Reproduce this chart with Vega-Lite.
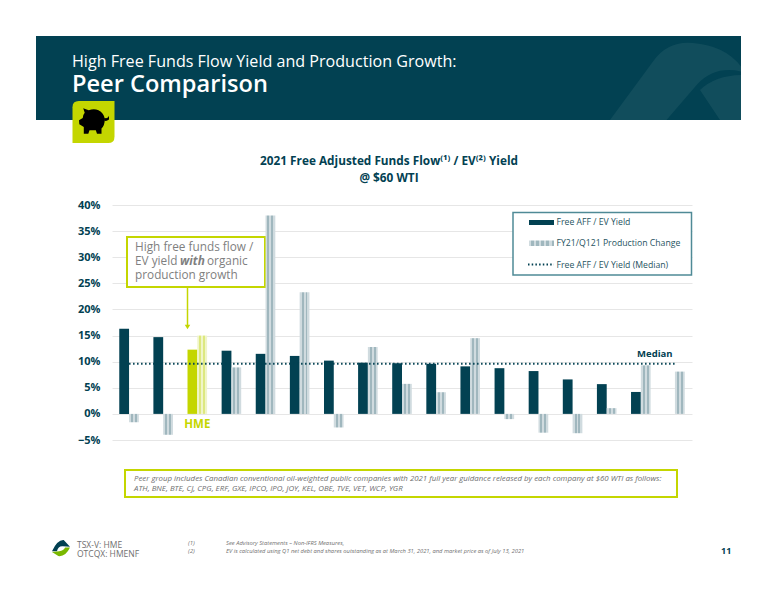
{
  "$schema": "https://vega.github.io/schema/vega-lite/v6.json",
  "width": 580,
  "height": 235,
  "autosize": "none",
  "padding": {"left": 112, "top": 205, "right": 84, "bottom": 160},
  "background": "white",
  "config": {
    "font": "Open Sans",
    "view": {"stroke": null},
    "axis": {"disable": true}
  },
  "title": {
    "text": "2021 Free Adjusted Funds Flow⁽¹⁾ / EV⁽²⁾ Yield",
    "subtitle": "@ $60 WTI",
    "anchor": "middle",
    "dx": -13,
    "offset": -149,
    "fontSize": 11.8,
    "fontWeight": "bold",
    "color": "#024152",
    "subtitleFontSize": 11.8,
    "subtitleFontWeight": "bold",
    "subtitleColor": "#024152",
    "subtitlePadding": 5
  },
  "resolve": {
    "scale": {"x": "independent", "y": "independent"},
    "axis": {"x": "independent", "y": "independent"}
  },
  "layer": [
    {
      "data": {"values": [{"item": "annotation"}]},
      "layer": [
        {
          "mark": {"type": "rect", "color": "#024152"},
          "encoding": {
            "x": {"datum": 36, "type": "quantitative", "scale": {"domain": [0, 776], "range": [-112, 664], "nice": false, "zero": false}},
            "x2": {"datum": 741},
            "y": {"datum": 36, "type": "quantitative", "scale": {"domain": [0, 600], "range": [-205, 395], "nice": false, "zero": false}},
            "y2": {"datum": 120}
          }
        },
        {
          "mark": {"type": "point", "filled": true, "opacity": 1, "strokeWidth": 0, "color": "#114d5c", "size": 10000, "shape": "M-0.8 0.84 L0.06 -0.33 Q0.35 -0.75 0.86 -0.7 Q1.5 -0.65 1.82 -0.23 L1.82 -0.13 Q1.3 -0.25 0.95 0.12 L0.33 0.84 Z M1 0.24 Q1.3 -0.05 1.82 -0.06 L1.82 0.84 L1.4 0.84 Z"},
          "encoding": {"x": {"datum": 650}, "y": {"datum": 78}}
        },
        {
          "mark": {"type": "text", "text": "High Free Funds Flow Yield and Production Growth:", "align": "left", "baseline": "middle", "fontSize": 16.1, "color": "white"},
          "encoding": {"x": {"datum": 72}, "y": {"datum": 62}}
        },
        {
          "mark": {"type": "text", "text": "Peer Comparison", "align": "left", "baseline": "middle", "fontSize": 23.6, "fontWeight": 600, "color": "white"},
          "encoding": {"x": {"datum": 72}, "y": {"datum": 85}}
        },
        {
          "mark": {"type": "point", "filled": true, "opacity": 1, "strokeWidth": 0, "color": "#c4d600", "size": 1764, "shape": "M-0.7 -1 L1 -1 L1 0.7 Q1 1 0.7 1 L-1 1 L-1 -0.7 Q-1 -1 -0.7 -1 Z"},
          "encoding": {"x": {"datum": 93.5}, "y": {"datum": 122}}
        },
        {
          "mark": {"type": "point", "filled": true, "opacity": 1, "strokeWidth": 0, "color": "#000000", "size": 900, "shape": "M-1 -0.05 L-0.75 -0.2 Q-0.72 -0.45 -0.62 -0.55 L-0.72 -0.85 L-0.35 -0.72 Q0 -0.85 0.3 -0.72 Q0.65 -0.55 0.72 -0.15 Q0.72 0.3 0.5 0.5 L0.5 0.85 L0.2 0.85 L0.12 0.62 L-0.3 0.62 L-0.38 0.85 L-0.68 0.85 L-0.68 0.4 Q-0.85 0.3 -0.98 0.22 Z M0.72 -0.2 Q0.95 -0.15 1 -0.35 L1 -0.1 Q0.85 0 0.72 0 Z"},
          "encoding": {"x": {"datum": 94}, "y": {"datum": 121}}
        },
        {
          "mark": {"type": "rect", "fill": "white", "stroke": "#c4d600", "strokeWidth": 2},
          "encoding": {"x": {"datum": 127}, "x2": {"datum": 265}, "y": {"datum": 237}, "y2": {"datum": 287}}
        },
        {
          "mark": {"type": "text", "text": "High free funds flow /", "align": "left", "baseline": "middle", "fontSize": 11.8, "color": "#7f7f7f"},
          "encoding": {"x": {"datum": 135}, "y": {"datum": 247}}
        },
        {
          "mark": {"type": "text", "text": "EV yield", "align": "left", "baseline": "middle", "fontSize": 11.8, "color": "#7f7f7f"},
          "encoding": {"x": {"datum": 135}, "y": {"datum": 261}}
        },
        {
          "mark": {"type": "text", "text": "with", "align": "left", "baseline": "middle", "fontSize": 11.8, "fontStyle": "italic", "fontWeight": "bold", "color": "#7f7f7f"},
          "encoding": {"x": {"datum": 180}, "y": {"datum": 261}}
        },
        {
          "mark": {"type": "text", "text": "organic", "align": "left", "baseline": "middle", "fontSize": 11.8, "color": "#7f7f7f"},
          "encoding": {"x": {"datum": 207}, "y": {"datum": 261}}
        },
        {
          "mark": {"type": "text", "text": "production growth", "align": "left", "baseline": "middle", "fontSize": 11.8, "color": "#7f7f7f"},
          "encoding": {"x": {"datum": 135}, "y": {"datum": 275}}
        },
        {
          "mark": {"type": "rule", "color": "#c4d600", "strokeWidth": 1.5},
          "encoding": {"x": {"datum": 187.5}, "y": {"datum": 288}, "y2": {"datum": 326}}
        },
        {
          "mark": {"type": "point", "shape": "triangle-down", "filled": true, "opacity": 1, "strokeWidth": 0, "color": "#c4d600", "size": 30},
          "encoding": {"x": {"datum": 187.5}, "y": {"datum": 327}}
        },
        {
          "mark": {"type": "rect", "fill": "white", "stroke": "#4f8a96", "strokeWidth": 1.5},
          "encoding": {"x": {"datum": 513}, "x2": {"datum": 691.5}, "y": {"datum": 212.5}, "y2": {"datum": 275}}
        },
        {
          "mark": {"type": "rect", "color": "#024152"},
          "encoding": {"x": {"datum": 529}, "x2": {"datum": 554}, "y": {"datum": 220}, "y2": {"datum": 225}}
        },
        {
          "mark": {"type": "rect", "fill": {"gradient": "linear", "x1": 0, "y1": 0, "x2": 1, "y2": 0, "stops": [
            {"offset": 0, "color": "#d0dbdf"}, {"offset": 0.1, "color": "#d0dbdf"}, {"offset": 0.1, "color": "#a0b7be"}, {"offset": 0.2, "color": "#a0b7be"},
            {"offset": 0.2, "color": "#d0dbdf"}, {"offset": 0.3, "color": "#d0dbdf"}, {"offset": 0.3, "color": "#a0b7be"}, {"offset": 0.4, "color": "#a0b7be"},
            {"offset": 0.4, "color": "#d0dbdf"}, {"offset": 0.5, "color": "#d0dbdf"}, {"offset": 0.5, "color": "#a0b7be"}, {"offset": 0.6, "color": "#a0b7be"},
            {"offset": 0.6, "color": "#d0dbdf"}, {"offset": 0.7, "color": "#d0dbdf"}, {"offset": 0.7, "color": "#a0b7be"}, {"offset": 0.8, "color": "#a0b7be"},
            {"offset": 0.8, "color": "#d0dbdf"}, {"offset": 0.9, "color": "#d0dbdf"}, {"offset": 0.9, "color": "#a0b7be"}, {"offset": 1, "color": "#a0b7be"}
          ]}},
          "encoding": {"x": {"datum": 529}, "x2": {"datum": 554}, "y": {"datum": 240.5}, "y2": {"datum": 246}}
        },
        {
          "mark": {"type": "rule", "color": "#024152", "strokeWidth": 2, "strokeDash": [1.5, 2.2]},
          "encoding": {"x": {"datum": 528}, "x2": {"datum": 554}, "y": {"datum": 264.5}}
        },
        {
          "mark": {"type": "text", "text": "Free AFF / EV Yield", "align": "left", "baseline": "middle", "fontSize": 8.7, "color": "#1f5361"},
          "encoding": {"x": {"datum": 556.5}, "y": {"datum": 222}}
        },
        {
          "mark": {"type": "text", "text": "FY21/Q121 Production Change", "align": "left", "baseline": "middle", "fontSize": 8.7, "color": "#1f5361"},
          "encoding": {"x": {"datum": 556.5}, "y": {"datum": 243}}
        },
        {
          "mark": {"type": "text", "text": "Free AFF / EV Yield (Median)", "align": "left", "baseline": "middle", "fontSize": 8.7, "color": "#1f5361"},
          "encoding": {"x": {"datum": 556.5}, "y": {"datum": 264.5}}
        },
        {
          "mark": {"type": "rect", "fill": "white", "stroke": "#c4d600", "strokeWidth": 2},
          "encoding": {"x": {"datum": 125}, "x2": {"datum": 677}, "y": {"datum": 470}, "y2": {"datum": 497}}
        },
        {
          "mark": {"type": "text", "text": "Peer group includes Canadian conventional oil-weighted public companies with 2021 full year guidance released by each company at $60 WTI as follows:", "align": "left", "baseline": "middle", "fontSize": 7.85, "fontStyle": "italic", "color": "#6f6f6f"},
          "encoding": {"x": {"datum": 134}, "y": {"datum": 479}}
        },
        {
          "mark": {"type": "text", "text": "ATH, BNE, BTE, CJ, CPG, ERF, GXE, IPCO, IPO, JOY, KEL, OBE, TVE, VET, WCP, YGR", "align": "left", "baseline": "middle", "fontSize": 7.85, "fontStyle": "italic", "color": "#6f6f6f"},
          "encoding": {"x": {"datum": 134}, "y": {"datum": 489}}
        },
        {
          "mark": {"type": "point", "filled": true, "opacity": 1, "strokeWidth": 0, "color": "#024152", "size": 324, "shape": "M-1 0.35 Q-0.4 -0.95 0.3 -0.9 L1 -0.15 L0.2 -0.2 Q-0.3 -0.25 -0.45 0.35 Z"},
          "encoding": {"x": {"datum": 61}, "y": {"datum": 548}}
        },
        {
          "mark": {"type": "point", "filled": true, "opacity": 1, "strokeWidth": 0, "color": "#7ab800", "size": 324, "shape": "M1 -0.05 Q0.5 1 -0.3 0.9 L-1 0.45 L-0.2 0.35 Q0.3 0.3 0.45 -0.05 Z"},
          "encoding": {"x": {"datum": 61}, "y": {"datum": 548}}
        },
        {
          "mark": {"type": "text", "text": "TSX-V: HME", "align": "left", "baseline": "middle", "fontSize": 8.5, "color": "#6f6f6f"},
          "encoding": {"x": {"datum": 77}, "y": {"datum": 544.5}}
        },
        {
          "mark": {"type": "text", "text": "OTCQX: HMENF", "align": "left", "baseline": "middle", "fontSize": 8.5, "color": "#6f6f6f"},
          "encoding": {"x": {"datum": 77}, "y": {"datum": 554}}
        },
        {
          "mark": {"type": "text", "text": "(1)", "align": "left", "baseline": "middle", "fontSize": 6, "fontStyle": "italic", "color": "#6f6f6f"},
          "encoding": {"x": {"datum": 188}, "y": {"datum": 543}}
        },
        {
          "mark": {"type": "text", "text": "(2)", "align": "left", "baseline": "middle", "fontSize": 6, "fontStyle": "italic", "color": "#6f6f6f"},
          "encoding": {"x": {"datum": 188}, "y": {"datum": 551}}
        },
        {
          "mark": {"type": "text", "text": "See Advisory Statements – Non-IFRS Measures,", "align": "left", "baseline": "middle", "fontSize": 5.8, "fontStyle": "italic", "color": "#6f6f6f"},
          "encoding": {"x": {"datum": 226}, "y": {"datum": 543}}
        },
        {
          "mark": {"type": "text", "text": "EV is calculated using Q1 net debt and shares outstanding as at March 31, 2021, and market price as of July 13, 2021", "align": "left", "baseline": "middle", "fontSize": 5.8, "fontStyle": "italic", "color": "#6f6f6f"},
          "encoding": {"x": {"datum": 226}, "y": {"datum": 551}}
        },
        {
          "mark": {"type": "text", "text": "11", "align": "left", "baseline": "middle", "fontSize": 9, "fontWeight": "bold", "color": "#024152"},
          "encoding": {"x": {"datum": 721}, "y": {"datum": 551}}
        }
      ]
    },
    {
      "data": {"values": [
        {"company": "Peer 1", "series": "Free AFF / EV Yield", "value": 0.163},
        {"company": "Peer 2", "series": "Free AFF / EV Yield", "value": 0.147},
        {"company": "HME", "series": "Free AFF / EV Yield", "value": 0.123},
        {"company": "Peer 4", "series": "Free AFF / EV Yield", "value": 0.121},
        {"company": "Peer 5", "series": "Free AFF / EV Yield", "value": 0.115},
        {"company": "Peer 6", "series": "Free AFF / EV Yield", "value": 0.111},
        {"company": "Peer 7", "series": "Free AFF / EV Yield", "value": 0.102},
        {"company": "Peer 8", "series": "Free AFF / EV Yield", "value": 0.098},
        {"company": "Peer 9", "series": "Free AFF / EV Yield", "value": 0.097},
        {"company": "Peer 10", "series": "Free AFF / EV Yield", "value": 0.096},
        {"company": "Peer 11", "series": "Free AFF / EV Yield", "value": 0.091},
        {"company": "Peer 12", "series": "Free AFF / EV Yield", "value": 0.0875},
        {"company": "Peer 13", "series": "Free AFF / EV Yield", "value": 0.082},
        {"company": "Peer 14", "series": "Free AFF / EV Yield", "value": 0.066},
        {"company": "Peer 15", "series": "Free AFF / EV Yield", "value": 0.057},
        {"company": "Peer 16", "series": "Free AFF / EV Yield", "value": 0.042},
        {"company": "Peer 1", "series": "FY21/Q121 Production Change", "value": -0.016},
        {"company": "Peer 2", "series": "FY21/Q121 Production Change", "value": -0.04},
        {"company": "HME", "series": "FY21/Q121 Production Change", "value": 0.15},
        {"company": "Peer 4", "series": "FY21/Q121 Production Change", "value": 0.089},
        {"company": "Peer 5", "series": "FY21/Q121 Production Change", "value": 0.38},
        {"company": "Peer 6", "series": "FY21/Q121 Production Change", "value": 0.233},
        {"company": "Peer 7", "series": "FY21/Q121 Production Change", "value": -0.026},
        {"company": "Peer 8", "series": "FY21/Q121 Production Change", "value": 0.128},
        {"company": "Peer 9", "series": "FY21/Q121 Production Change", "value": 0.0575},
        {"company": "Peer 10", "series": "FY21/Q121 Production Change", "value": 0.0415},
        {"company": "Peer 11", "series": "FY21/Q121 Production Change", "value": 0.145},
        {"company": "Peer 12", "series": "FY21/Q121 Production Change", "value": -0.01},
        {"company": "Peer 13", "series": "FY21/Q121 Production Change", "value": -0.036},
        {"company": "Peer 14", "series": "FY21/Q121 Production Change", "value": -0.037},
        {"company": "Peer 15", "series": "FY21/Q121 Production Change", "value": 0.011},
        {"company": "Peer 16", "series": "FY21/Q121 Production Change", "value": 0.093},
        {"company": "Peer 17", "series": "FY21/Q121 Production Change", "value": 0.081},
        {"company": "Peer 1", "series": "Free AFF / EV Yield (Median)", "value": 0.096},
        {"company": "Peer 2", "series": "Free AFF / EV Yield (Median)", "value": 0.096},
        {"company": "HME", "series": "Free AFF / EV Yield (Median)", "value": 0.096},
        {"company": "Peer 4", "series": "Free AFF / EV Yield (Median)", "value": 0.096},
        {"company": "Peer 5", "series": "Free AFF / EV Yield (Median)", "value": 0.096},
        {"company": "Peer 6", "series": "Free AFF / EV Yield (Median)", "value": 0.096},
        {"company": "Peer 7", "series": "Free AFF / EV Yield (Median)", "value": 0.096},
        {"company": "Peer 8", "series": "Free AFF / EV Yield (Median)", "value": 0.096},
        {"company": "Peer 9", "series": "Free AFF / EV Yield (Median)", "value": 0.096},
        {"company": "Peer 10", "series": "Free AFF / EV Yield (Median)", "value": 0.096},
        {"company": "Peer 11", "series": "Free AFF / EV Yield (Median)", "value": 0.096},
        {"company": "Peer 12", "series": "Free AFF / EV Yield (Median)", "value": 0.096},
        {"company": "Peer 13", "series": "Free AFF / EV Yield (Median)", "value": 0.096},
        {"company": "Peer 14", "series": "Free AFF / EV Yield (Median)", "value": 0.096},
        {"company": "Peer 15", "series": "Free AFF / EV Yield (Median)", "value": 0.096},
        {"company": "Peer 16", "series": "Free AFF / EV Yield (Median)", "value": 0.096},
        {"company": "Peer 17", "series": "Free AFF / EV Yield (Median)", "value": 0.096}
      ]},
      "encoding": {
        "x": {
          "field": "company",
          "type": "nominal",
          "axis": null,
          "scale": {
            "domain": ["Peer 1", "Peer 2", "HME", "Peer 4", "Peer 5", "Peer 6", "Peer 7", "Peer 8", "Peer 9", "Peer 10", "Peer 11", "Peer 12", "Peer 13", "Peer 14", "Peer 15", "Peer 16", "Peer 17"],
            "paddingInner": 0.426,
            "paddingOuter": 0.213
          }
        },
        "y": {
          "field": "value",
          "type": "quantitative",
          "scale": {"domain": [-0.05, 0.4], "nice": false},
          "axis": {
            "disable": false,
            "title": null,
            "values": [-0.05, 0, 0.05, 0.1, 0.15, 0.2, 0.25, 0.3, 0.35, 0.4],
            "format": ".0%",
            "domain": false,
            "ticks": false,
            "grid": true,
            "gridColor": "#e6e6e6",
            "gridWidth": 1,
            "labelFont": "Open Sans",
            "labelFontWeight": "bold",
            "labelFontSize": 11,
            "labelColor": "#024152",
            "labelPadding": 12
          }
        }
      },
      "layer": [
        {
          "transform": [{"filter": "datum.series == 'Free AFF / EV Yield'"}],
          "mark": {"type": "bar"},
          "encoding": {
            "xOffset": {"field": "series", "scale": {"domain": ["Free AFF / EV Yield", "FY21/Q121 Production Change"], "paddingInner": 0, "paddingOuter": 0}},
            "color": {"condition": {"test": "datum.company == 'HME'", "value": "#c4d600"}, "value": "#024152"}
          }
        },
        {
          "transform": [{"filter": "datum.series == 'FY21/Q121 Production Change' && datum.company != 'HME'"}],
          "mark": {"type": "bar", "fill": {"gradient": "linear", "x1": 0, "y1": 0, "x2": 1, "y2": 0, "stops": [
            {"offset": 0, "color": "#d0dbdf"}, {"offset": 0.2, "color": "#d0dbdf"}, {"offset": 0.2, "color": "#a0b7be"}, {"offset": 0.4, "color": "#a0b7be"},
            {"offset": 0.4, "color": "#d0dbdf"}, {"offset": 0.6, "color": "#d0dbdf"}, {"offset": 0.6, "color": "#a0b7be"}, {"offset": 0.8, "color": "#a0b7be"},
            {"offset": 0.8, "color": "#d0dbdf"}, {"offset": 1, "color": "#d0dbdf"}
          ]}},
          "encoding": {
            "xOffset": {"field": "series", "scale": {"domain": ["Free AFF / EV Yield", "FY21/Q121 Production Change"], "paddingInner": 0, "paddingOuter": 0}}
          }
        },
        {
          "transform": [{"filter": "datum.series == 'FY21/Q121 Production Change' && datum.company == 'HME'"}],
          "mark": {"type": "bar", "fill": {"gradient": "linear", "x1": 0, "y1": 0, "x2": 1, "y2": 0, "stops": [
            {"offset": 0, "color": "#f0f5c8"}, {"offset": 0.2, "color": "#f0f5c8"}, {"offset": 0.2, "color": "#dde87f"}, {"offset": 0.4, "color": "#dde87f"},
            {"offset": 0.4, "color": "#f0f5c8"}, {"offset": 0.6, "color": "#f0f5c8"}, {"offset": 0.6, "color": "#dde87f"}, {"offset": 0.8, "color": "#dde87f"},
            {"offset": 0.8, "color": "#f0f5c8"}, {"offset": 1, "color": "#f0f5c8"}
          ]}},
          "encoding": {
            "xOffset": {"field": "series", "scale": {"domain": ["Free AFF / EV Yield", "FY21/Q121 Production Change"], "paddingInner": 0, "paddingOuter": 0}}
          }
        },
        {
          "transform": [{"filter": "datum.series == 'Free AFF / EV Yield (Median)'"}],
          "mark": {"type": "line", "color": "#024152", "strokeWidth": 2, "strokeDash": [1.5, 2.5]}
        },
        {
          "transform": [{"filter": "datum.series == 'Free AFF / EV Yield (Median)' && datum.company == 'Peer 16'"}],
          "mark": {"type": "text", "text": "Median", "dx": 14, "dy": -10, "fontSize": 9.5, "fontWeight": "bold", "color": "#024152"}
        },
        {
          "transform": [{"filter": "datum.series == 'Free AFF / EV Yield (Median)' && datum.company == 'HME'"}],
          "mark": {"type": "text", "text": "HME", "fontSize": 11.5, "fontWeight": "bold", "color": "#c4d600", "letterSpacing": 1.5},
          "encoding": {"y": {"datum": -0.022}}
        }
      ]
    }
  ]
}
